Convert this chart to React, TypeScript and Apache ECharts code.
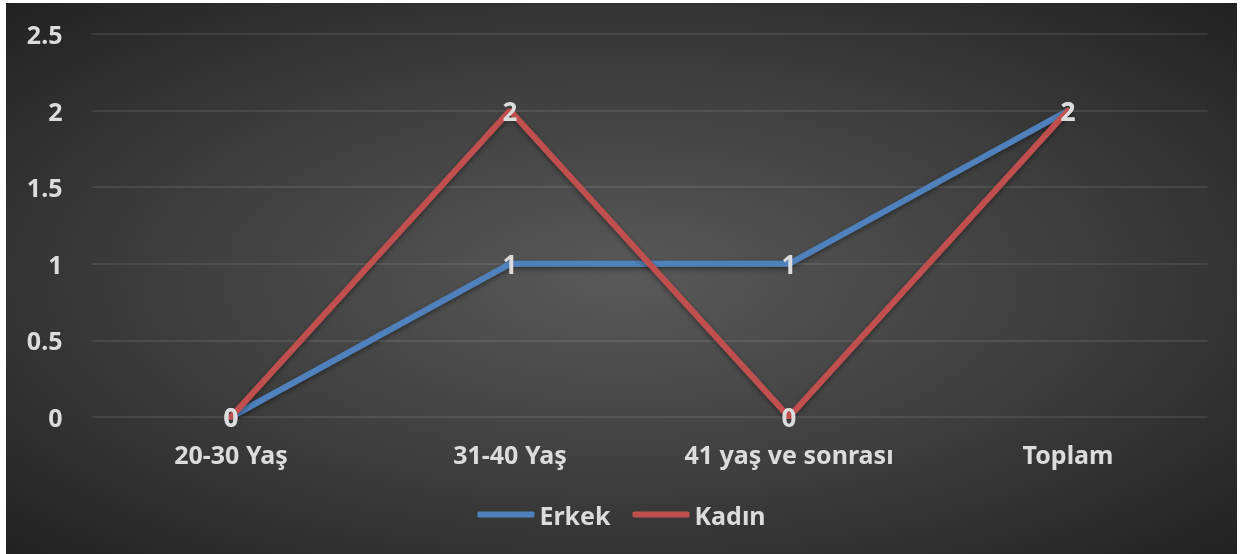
import React, { useEffect, useRef } from "react";
import * as echarts from "echarts";

const categories = ["20-30 Yaş", "31-40 Yaş", "41 yaş ve sonrası", "Toplam"];
const erkek = [0, 1, 1, 2];
const kadin = [0, 2, 0, 2];
const seriesNames = ["Erkek", "Kadın"];

const FONT = "'Noto Sans', sans-serif";
const TXT = "#dcdcdc";

export default function App() {
  const ref = useRef<HTMLDivElement>(null);
  useEffect(() => {
    if (!ref.current) return;
    const chart = echarts.init(ref.current, null, { renderer: "svg" });
    const lineSeries = (name: string, data: number[], color: string) => ({
      name,
      type: "line",
      data,
      symbol: "circle",
      symbolSize: 1,
      showSymbol: true,
      lineStyle: {
        color,
        width: 6,
        cap: "round",
        shadowColor: "rgba(0,0,0,0.45)",
        shadowBlur: 5,
        shadowOffsetY: 2,
      },
      itemStyle: { color },
      label: {
        show: true,
        position: "inside",
        color: TXT,
        fontFamily: FONT,
        fontWeight: "bold",
        fontSize: 26,
      },
    });
    chart.setOption({
      animation: false,
      backgroundColor: "transparent",
      grid: { left: 85.5, right: 29.5, top: 31, bottom: 137, containLabel: false },
      legend: {
        data: seriesNames,
        bottom: 22,
        left: "center",
        itemWidth: 57,
        itemHeight: 6,
        itemGap: 22,
        icon: "roundRect",
        textStyle: { color: TXT, fontFamily: FONT, fontWeight: "bold", fontSize: 25 },
      },
      xAxis: {
        type: "category",
        data: categories,
        boundaryGap: true,
        axisLine: { show: false },
        axisTick: { show: false },
        axisLabel: {
          color: TXT,
          fontFamily: FONT,
          fontWeight: "bold",
          fontSize: 25,
          margin: 24,
        },
      },
      yAxis: {
        type: "value",
        min: 0,
        max: 2.5,
        interval: 0.5,
        axisLine: { show: false },
        axisTick: { show: false },
        splitLine: { lineStyle: { color: "rgba(255,255,255,0.12)", width: 1.5 } },
        axisLabel: {
          color: TXT,
          fontFamily: FONT,
          fontWeight: "bold",
          fontSize: 25,
          margin: 29,
        },
      },
      series: [
        lineSeries(seriesNames[0], erkek, "#4f81bd"),
        lineSeries(seriesNames[1], kadin, "#c0504d"),
      ],
    });
    return () => chart.dispose();
  }, []);
  return (
    <div
      style={{
        position: "fixed",
        left: 6,
        top: 3,
        width: 1231,
        height: 551,
        background:
          "radial-gradient(ellipse at center, #595959 0%, #3c3c3c 55%, #222222 100%)",
      }}
    >
      <div ref={ref} style={{ width: 1231, height: 551 }} />
    </div>
  );
}
